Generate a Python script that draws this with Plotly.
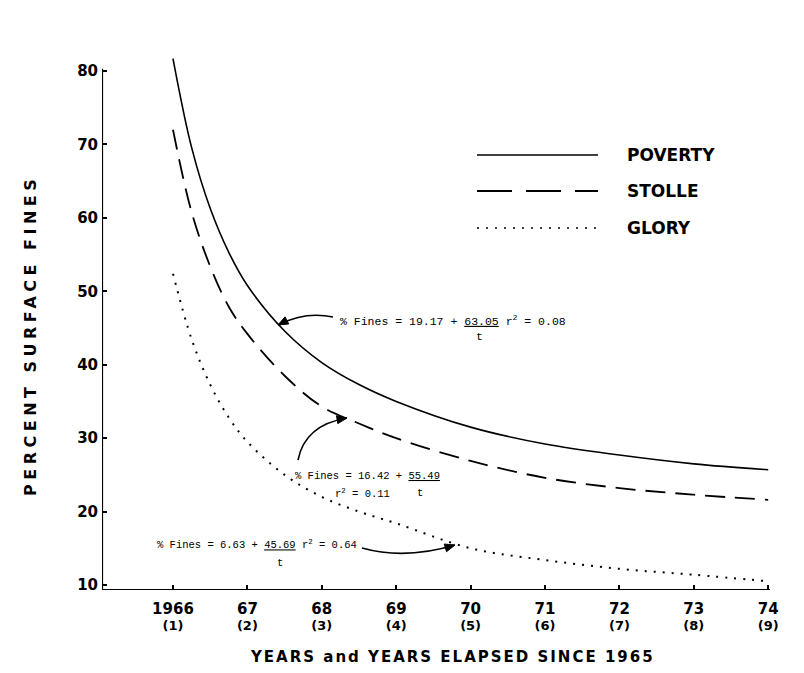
import math
import plotly.graph_objects as go

# ---- data ----
years_elapsed = [1, 1.25, 1.5, 1.75, 2, 2.5, 3, 3.5, 4, 5, 6, 7, 8, 9]
poverty = [81.7, 69.6, 61.3, 55.3, 50.8, 44.6, 40.3, 37.3, 35.0, 31.5, 29.2, 27.7, 26.5, 25.7]
stolle = [72.0, 60.8, 53.4, 47.9, 44.2, 38.5, 34.3, 32.0, 30.0, 26.9, 24.6, 23.2, 22.3, 21.6]
glory = [52.4, 43.5, 37.3, 32.8, 29.5, 25.0, 22.0, 20.0, 18.4, 15.0, 13.4, 12.2, 11.4, 10.5]

x_tickvals = [1, 2, 3, 4, 5, 6, 7, 8, 9]
x_year_labels = ["1966", "67", "68", "69", "70", "71", "72", "73", "74"]
x_elapsed_labels = ["(1)", "(2)", "(3)", "(4)", "(5)", "(6)", "(7)", "(8)", "(9)"]
y_tickvals = [10, 20, 30, 40, 50, 60, 70, 80]

series_names = ["POVERTY", "STOLLE", "GLORY"]

# ---- layout geometry ----
XR = [0.046, 9.024]
YR = [9.32, 83.0]
BOLD = "DejaVu Sans"
EQF = "Liberation Mono"

# pixel scale of the plot area (668 x 541 px)
SX = 668.0 / (XR[1] - XR[0])
SY = 541.0 / (YR[1] - YR[0])

styles = {
    "POVERTY": dict(color="black", width=1.6, dash="solid"),
    "STOLLE": dict(color="black", width=1.8, dash="20px,10px"),
    "GLORY": dict(color="black", width=2.0, dash="2px,7px"),
}

fig = go.Figure()
for name, ys in zip(series_names, [poverty, stolle, glory]):
    fig.add_trace(go.Scatter(
        x=years_elapsed, y=ys, mode="lines", name=name,
        line=dict(shape="spline", smoothing=1.0, **styles[name]),
        showlegend=False, hoverinfo="skip",
    ))

ticktext = [f"<span style='font-size:15px'>{a}</span><br><span style='font-size:13px'>{b}</span>"
            for a, b in zip(x_year_labels, x_elapsed_labels)]

shapes = []
# axis lines
shapes.append(dict(type="line", xref="x", yref="y", x0=XR[0], x1=XR[0], y0=YR[0], y1=80.3,
                   line=dict(color="black", width=2.2)))
shapes.append(dict(type="line", xref="x", yref="y", x0=XR[0], x1=XR[1], y0=YR[0], y1=YR[0],
                   line=dict(color="black", width=2.2)))

# legend samples (paper coords)
def px_to_paper(px, py):
    return (px - 102) / 668.0, (590 - py) / 541.0

legend_rows = [(155, "POVERTY", dict(color="black", width=1.5, dash="solid")),
               (191, "STOLLE", dict(color="black", width=1.8, dash="35px,14px")),
               (228, "GLORY", dict(color="black", width=1.6, dash="2px,7px"))]
annotations = []
for py, label, ln in legend_rows:
    x0, yp = px_to_paper(477, py)
    x1, _ = px_to_paper(598, py)
    shapes.append(dict(type="line", xref="paper", yref="paper", x0=x0, x1=x1, y0=yp, y1=yp, line=ln))
    lx, _ = px_to_paper(625, py)
    annotations.append(dict(xref="paper", yref="paper", x=lx, y=yp, xanchor="left", yanchor="middle",
                            text=label, showarrow=False,
                            font=dict(family=BOLD, size=17, color="black", weight="bold")))

# curved arrows (data coords: start, control, tip)
arrows = [
    ((3.151, 46.50), (2.774, 47.31), (2.411, 45.41)),
    ((2.680, 27.02), (2.774, 31.79), (3.339, 32.74)),
    ((3.540, 15.04), (4.118, 13.40), (4.790, 15.45)),
]
for (s, c, e) in arrows:
    shapes.append(dict(type="path", xref="x", yref="y",
                       path=f"M {s[0]},{s[1]} Q {c[0]},{c[1]} {e[0]},{e[1]}",
                       line=dict(color="black", width=1.6)))
    # arrowhead: triangle in pixel space, converted back to data units
    dxp = (e[0] - c[0]) * SX
    dyp = (e[1] - c[1]) * SY
    n = math.hypot(dxp, dyp)
    ux, uy = dxp / n, dyp / n
    L, W = 10.0, 4.0
    bx, by = -ux * L, -uy * L
    p1 = (e[0] + (bx - uy * W) / SX, e[1] + (by + ux * W) / SY)
    p2 = (e[0] + (bx + uy * W) / SX, e[1] + (by - ux * W) / SY)
    shapes.append(dict(type="path", xref="x", yref="y",
                       path=f"M {e[0]},{e[1]} L {p1[0]},{p1[1]} L {p2[0]},{p2[1]} Z",
                       fillcolor="black", line=dict(color="black", width=1)))

# equations
eq = [
    (3.218, 46.09, "% Fines = 19.17 + <u>63.05</u> r<sup>2</sup> = 0.08", 11.5),
    (5.113, 43.90, None, 11.5),
    (2.613, 24.84, "% Fines = 16.42 + <u>55.49</u>", 10.5),
    (3.150, 22.53, "r<sup>2</sup> = 0.11", 10.5),
    (4.320, 22.53, None, 10.5),
    (0.758, 15.45, "% Fines = 6.63 + <u>45.69</u> r<sup>2</sup> = 0.64", 10.5),
    (2.438, 13.00, None, 10.5),
]
for x, y, txt, sz in eq:
    if txt is None:
        annotations.append(dict(x=x, y=y, xref="x", yref="y", text="t", showarrow=False,
                                xanchor="center", yanchor="middle",
                                font=dict(family=EQF, size=sz, color="black")))
    else:
        annotations.append(dict(x=x, y=y, xref="x", yref="y", text=txt, showarrow=False,
                                xanchor="left", yanchor="middle",
                                font=dict(family=EQF, size=sz, color="black")))

# axis titles
tx, ty = px_to_paper(453, 657)
annotations.append(dict(xref="paper", yref="paper", x=tx, y=ty, xanchor="center", yanchor="middle",
                        text="<span style='letter-spacing:2px'>YEARS and YEARS ELAPSED SINCE 1965</span>",
                        showarrow=False, font=dict(family=BOLD, size=15, color="black", weight="bold")))
yx, yy = px_to_paper(30, 336)
annotations.append(dict(xref="paper", yref="paper", x=yx, y=yy, xanchor="center", yanchor="middle",
                        textangle=-90,
                        text="<span style='letter-spacing:4.5px'>PERCENT SURFACE FINES</span>",
                        showarrow=False, font=dict(family=BOLD, size=16, color="black", weight="bold")))

fig.update_layout(
    width=804, height=673,
    margin=dict(l=102, r=34, t=49, b=83),
    paper_bgcolor="white", plot_bgcolor="white",
    shapes=shapes, annotations=annotations,
    xaxis=dict(range=XR, showgrid=False, zeroline=False, showline=False,
               tickvals=x_tickvals, ticktext=ticktext, ticks="inside", ticklen=5,
               tickwidth=1.5, tickcolor="black", ticklabelstandoff=11,
               tickfont=dict(family=BOLD, size=12, color="black", weight="bold")),
    yaxis=dict(range=YR, showgrid=False, zeroline=False, showline=False,
               tickvals=y_tickvals, ticktext=[str(v) for v in y_tickvals],
               ticks="inside", ticklen=5, tickwidth=1.5, tickcolor="black",
               ticklabelstandoff=3,
               tickfont=dict(family=BOLD, size=15, color="black", weight="bold")),
)

fig.write_html("out.html")
